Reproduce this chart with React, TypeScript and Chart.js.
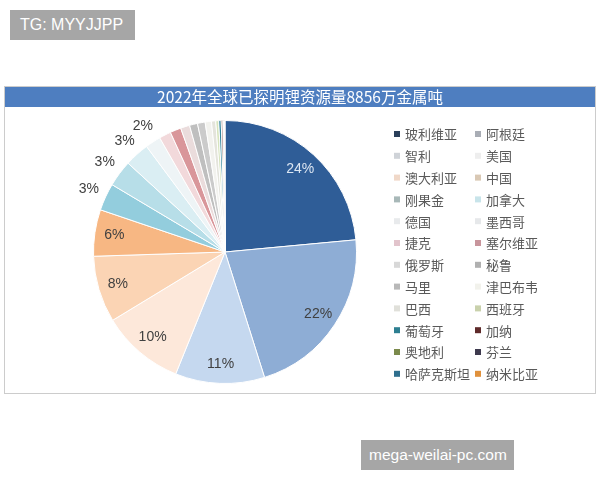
import React, { useEffect, useRef } from 'react';
import { Chart, registerables } from 'chart.js';
Chart.register(...registerables);

const titleText = '2022年全球已探明锂资源量8856万金属吨';

const categories = [
  '玻利维亚', '阿根廷', '智利', '美国', '澳大利亚', '中国',
  '刚果金', '加拿大', '德国', '墨西哥', '捷克', '塞尔维亚',
  '俄罗斯', '秘鲁', '马里', '津巴布韦', '巴西', '西班牙',
  '葡萄牙', '加纳', '奥地利', '芬兰', '哈萨克斯坦', '纳米比亚',
];

// 万金属吨
const values = [
  2100, 1930, 980, 910, 730, 510,
  300, 290, 270, 170, 130, 120,
  100, 88, 84, 69, 47, 32,
  27, 18, 6, 7, 5, 5,
];

const colors = [
  '#2f5d97', '#8eadd5', '#c5d8ef', '#fde8da', '#fbd4b4', '#f7b783',
  '#93cddd', '#b7dee8', '#daeef3', '#eef4f6', '#f2d9db', '#d9969a',
  '#eadcdc', '#bfbfbf', '#cbcbcb', '#f2f2ee', '#e4e4dc', '#d7e4bd',
  '#31859c', '#632523', '#76923c', '#403151', '#2e6f9a', '#e46c0a',
];

const legendColors = [
  '#2a3f5a', '#a9adb5', '#cfd3d8', '#eeeeee', '#f0d8c8', '#d9c8b4',
  '#a8b8b8', '#c8e4ea', '#e8eaec', '#e6e8ea', '#e2c4cc', '#c8959c',
  '#d8d8d8', '#b0b0b0', '#b8b8b8', '#f2f2ec', '#e0e0da', '#c9d1ac',
  '#2d7f91', '#5e2a2a', '#7b8a4c', '#3e3a4e', '#2f6f8e', '#e0913c',
];

const FONT_CJK = '"Noto Sans CJK SC", "Noto Sans", sans-serif';
const FONT_LATIN = '"Liberation Sans", Arial, sans-serif';

export default function App() {
  const ref = useRef<HTMLCanvasElement>(null);

  useEffect(() => {
    if (!ref.current) return;

    const panelPlugin = {
      id: 'panel',
      beforeDraw(chart: any) {
        const ctx = chart.ctx;
        ctx.save();
        ctx.fillStyle = '#ffffff';
        ctx.fillRect(0, 0, 600, 480);
        ctx.strokeStyle = '#cccccc';
        ctx.lineWidth = 1;
        ctx.strokeRect(4.5, 86.5, 591, 307);
        ctx.fillStyle = '#4e7ec0';
        ctx.fillRect(5, 87, 590, 20);
        ctx.fillStyle = '#ffffff';
        ctx.font = `15.5px ${FONT_CJK}`;
        ctx.textAlign = 'center';
        ctx.textBaseline = 'middle';
        ctx.fillText(titleText, 300, 97.5);
        ctx.restore();
      },
    };

    const legendPlugin = {
      id: 'customLegend',
      afterDraw(chart: any) {
        const ctx = chart.ctx;
        ctx.save();
        ctx.font = `13px ${FONT_CJK}`;
        ctx.textAlign = 'left';
        ctx.textBaseline = 'middle';
        categories.forEach((name, i) => {
          const row = Math.floor(i / 2);
          const col = i % 2;
          const y = 134 + row * 21.8;
          const bx = col ? 475 : 394;
          const tx = col ? 486 : 405;
          ctx.fillStyle = legendColors[i];
          ctx.fillRect(bx, y - 3, 6, 6);
          ctx.fillStyle = '#595959';
          ctx.fillText(name, tx, y + 0.5);
        });
        ctx.restore();
      },
    };

    const labelPlugin = {
      id: 'sliceLabels',
      afterDatasetsDraw(chart: any) {
        const ctx = chart.ctx;
        const meta = chart.getDatasetMeta(0);
        const data = chart.data.datasets[0].data as number[];
        const total = data.reduce((a, b) => a + b, 0);
        ctx.save();
        ctx.font = `14px ${FONT_LATIN}`;
        ctx.textAlign = 'center';
        ctx.textBaseline = 'middle';
        meta.data.forEach((arc: any, i: number) => {
          const pct = Math.round((data[i] / total) * 100);
          if (pct < 2) return;
          const mid = (arc.startAngle + arc.endAngle) / 2;
          const f = pct >= 5 ? 0.85 : 1.14;
          const x = arc.x + Math.cos(mid) * arc.outerRadius * f;
          const y = arc.y + Math.sin(mid) * arc.outerRadius * f;
          ctx.fillStyle = i === 0 ? '#dce6f2' : '#404040';
          ctx.fillText(pct + '%', x, y);
        });
        ctx.restore();
      },
    };

    const chart = new Chart(ref.current, {
      type: 'pie',
      data: {
        labels: categories,
        datasets: [
          {
            data: values,
            backgroundColor: colors,
            borderColor: '#ffffff',
            borderWidth: 1,
          },
        ],
      },
      options: {
        responsive: false,
        animation: false,
        layout: { padding: { left: 93, right: 243, top: 120, bottom: 96 } },
        plugins: {
          legend: { display: false },
          tooltip: { enabled: false },
          title: { display: false },
        },
      },
      plugins: [panelPlugin, labelPlugin, legendPlugin],
    });

    return () => chart.destroy();
  }, []);

  return (
    <div style={{ position: 'absolute', left: 0, top: 0, width: 600, height: 480, background: '#fff' }}>
      <canvas ref={ref} width={600} height={480} style={{ display: 'block' }} />
      <div
        style={{
          position: 'absolute', left: 10, top: 10, width: 125, height: 30,
          background: '#a6a6a6', color: '#ffffff', fontFamily: FONT_LATIN,
          fontSize: 16, lineHeight: '30px', paddingLeft: 10, boxSizing: 'border-box',
        }}
      >
        TG: MYYJJPP
      </div>
      <div
        style={{
          position: 'absolute', left: 361, top: 440, width: 153, height: 30,
          background: '#a6a6a6', color: '#ffffff', fontFamily: FONT_LATIN,
          fontSize: 15.5, lineHeight: '30px', paddingLeft: 8, boxSizing: 'border-box',
        }}
      >
        mega-weilai-pc.com
      </div>
    </div>
  );
}
